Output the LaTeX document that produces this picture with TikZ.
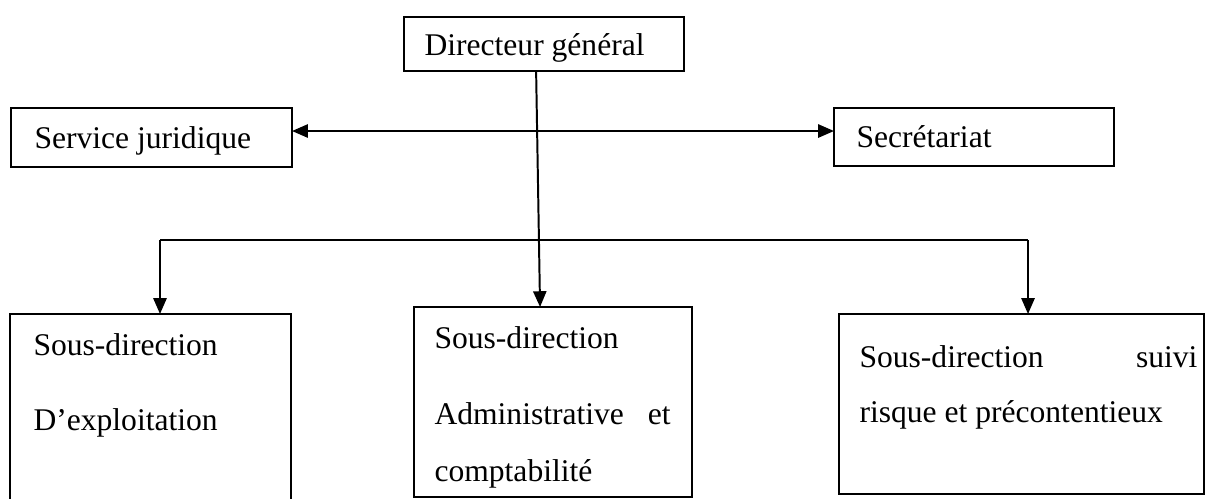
\documentclass[tikz,border=0pt]{standalone}
\usepackage{fontspec}
\setmainfont{Liberation Serif}
\usepackage{tikz}
\usetikzlibrary{arrows.meta}
\newcommand{\pxu}{0.38pt}
\tikzset{box/.style={
    draw, line width=.8pt, anchor=north west,
    inner sep=0pt, outer sep=0pt
  },
  txt/.style={
    anchor=base west, inner sep=0pt,
    font=\fontsize{12}{14}\selectfont
  },
  arr/.style={
    line width=.75pt, -{Triangle[length=6pt,width=5pt]}
  },
  biarr/.style={
    line width=.75pt, {Triangle[length=6pt,width=5pt]}-{Triangle[length=6pt,width=5pt]}
  }
}

\begin{document}
\begin{tikzpicture}[x=\pxu, y=-\pxu]
    \useasboundingbox (0,0) rectangle (1206,498);

    \node[box, minimum width=280*\pxu, minimum height=54*\pxu] (dg) at (404,17) {};
    \node[box, minimum width=281*\pxu, minimum height=59*\pxu] (sj) at (11,108) {};
    \node[box, minimum width=280*\pxu, minimum height=58*\pxu] (sec) at (834,108) {};
    \node[box, minimum width=281*\pxu, minimum height=200*\pxu] (expl) at (10,314) {};
    \node[box, minimum width=278*\pxu, minimum height=190*\pxu] (adm) at (414,307) {};
    \node[box, minimum width=365*\pxu, minimum height=180*\pxu] (risk) at (839,314) {};

    \node[txt] (dgt) at (424,55) {Directeur général};
    \node[txt] (sjt) at (34,148) {Service juridique};
    \node[txt] (sect) at (856,147) {Secrétariat};
    \node[txt] (explt1) at (33,355) {Sous-direction};
    \node[txt] (explt2) at (33,430) {D’exploitation};
    \node[txt] (admt1) at (434,348) {Sous-direction};
    \node[txt] (admt2) at (434,424) {\makebox[89.7pt][s]{Administrative et}};
    \node[txt] (admt3) at (434,481) {comptabilité};
    \node[txt] (riskt1) at (859,367) {\makebox[128.4pt][s]{Sous-direction suivi}};
    \node[txt] (riskt2) at (859,422) {risque et précontentieux};

    \coordinate (bus) at (544,131);
    \coordinate (bl) at (160,240);
    \coordinate (br) at (1028,240);

    \draw[biarr] (sj.east |- bus) -- (sec.west |- bus);
    \draw[arr] ([xshift=-3pt]dg.south) -- ([xshift=-1.5pt]dg.south |- adm.north);

    \draw[line width=.4pt] (bl) -- (br);
    \draw[arr] (bl) -- (bl |- expl.north);
    \draw[arr] (br) -- (br |- risk.north);
\end{tikzpicture}
\end{document}
